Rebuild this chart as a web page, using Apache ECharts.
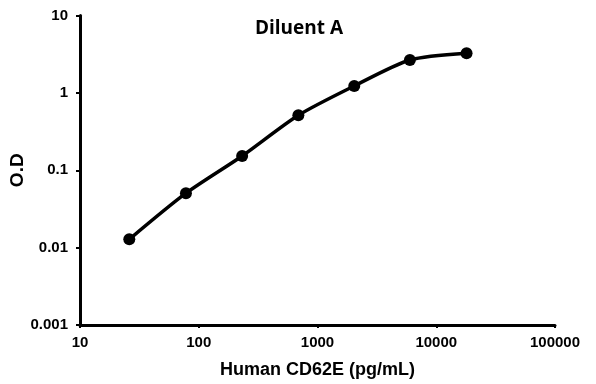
<!DOCTYPE html>
<html>
<head>
<meta charset="utf-8">
<script src="https://cdn.jsdelivr.net/npm/echarts@6/dist/echarts.min.js"></script>
<style>html,body{margin:0;padding:0;background:#fff}#c{width:596px;height:384px}</style>
</head>
<body>
<div id="c"></div>
<script>
var concentrations = [26, 78, 232, 690, 2040, 6000, 18000];
var odValues = [0.0128, 0.0505, 0.153, 0.514, 1.23, 2.66, 3.25];
var xTickLabels = ['10', '100', '1000', '10000', '100000'];
var yTickLabels = ['0.001', '0.01', '0.1', '1', '10'];
var chartTitle = 'Diluent A';
var xName = 'Human CD62E (pg/mL)';
var yName = 'O.D';

var font = '"Liberation Sans", Arial, sans-serif';
var chart = echarts.init(document.getElementById('c'), null, {renderer: 'canvas'});
function fmt(list) {
  return function (v) {
    var e = Math.round(Math.log10(v));
    for (var i = 0; i < list.length; i++) {
      if (Math.round(Math.log10(parseFloat(list[i]))) === e) return list[i];
    }
    return '';
  };
}
chart.setOption({
  animation: false,
  backgroundColor: '#ffffff',
  title: {
    text: chartTitle, left: 294, top: 14, textAlign: 'center',
    textStyle: {fontFamily: '"Open Sans", sans-serif', fontWeight: 'bold', fontSize: 19, color: '#000'}
  },
  grid: {left: 80, right: 41, top: 15.5, bottom: 59, outerBoundsMode: 'none', containLabel: false},
  xAxis: {
    type: 'log', logBase: 10, min: 10, max: 100000,
    name: xName, nameLocation: 'middle', nameGap: 36, nameMoveOverlap: false,
    nameTextStyle: {fontFamily: font, fontWeight: 'bold', fontSize: 18, color: '#000'},
    axisLine: {lineStyle: {color: '#000', width: 3}},
    axisTick: {show: true, inside: false, length: 3, lineStyle: {color: '#000', width: 2}},
    minorTick: {show: false},
    splitLine: {show: false},
    axisLabel: {formatter: fmt(xTickLabels), fontFamily: font, fontWeight: 'bold', fontSize: 15, color: '#000', margin: 10}
  },
  yAxis: {
    type: 'log', logBase: 10, min: 0.001, max: 10,
    name: yName, nameLocation: 'middle', nameGap: 53, nameRotate: 90, nameMoveOverlap: false,
    nameTextStyle: {fontFamily: font, fontWeight: 'bold', fontSize: 19, color: '#000'},
    axisLine: {show: true, lineStyle: {color: '#000', width: 3}},
    axisTick: {show: true, inside: false, length: 4, lineStyle: {color: '#000', width: 2}},
    splitLine: {show: false},
    axisLabel: {formatter: fmt(yTickLabels), fontFamily: font, fontWeight: 'bold', fontSize: 15, color: '#000', margin: 12}
  },
  series: [{
    type: 'line',
    data: concentrations.map(function (c, i) { return [c, odValues[i]]; }),
    smooth: 0.25,
    symbol: 'circle', symbolSize: 12,
    itemStyle: {color: '#000'},
    lineStyle: {color: '#000', width: 3.5}
  }]
});
</script>
</body>
</html>
